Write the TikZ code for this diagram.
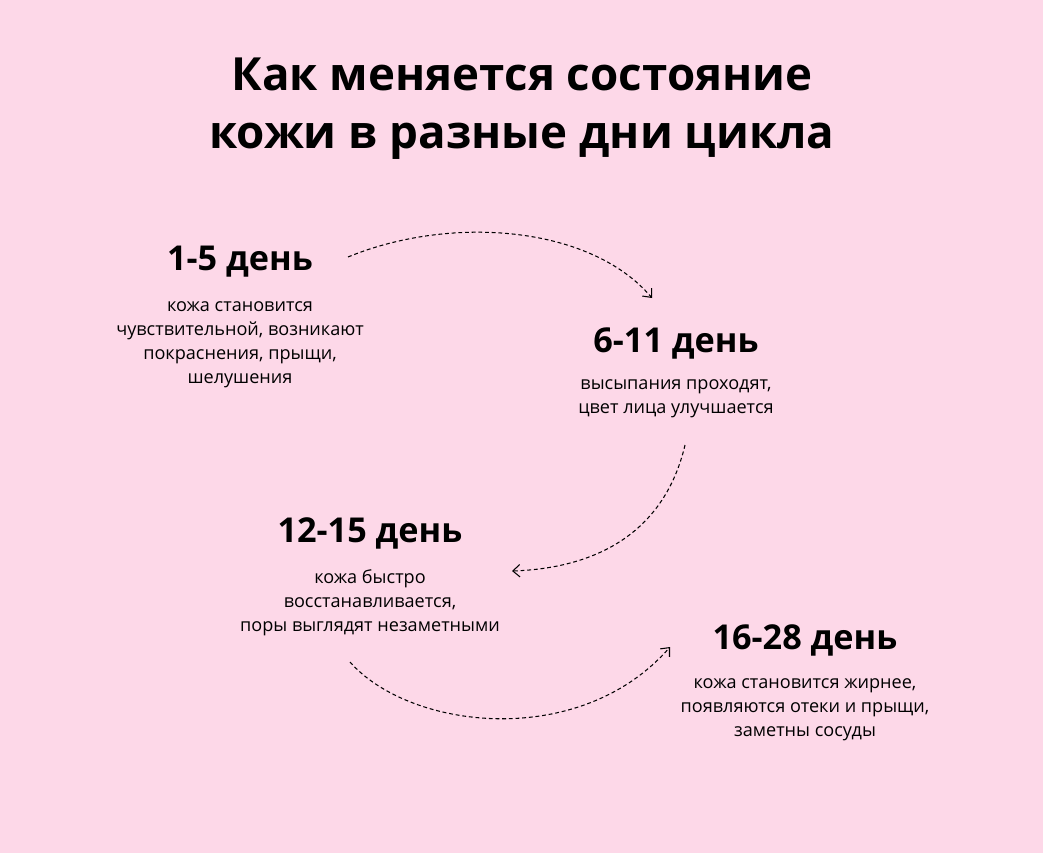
\documentclass[tikz,border=0pt]{standalone}
\usepackage{fontspec}
\setmainfont{Open Sans}
\usetikzlibrary{arrows.meta}
\definecolor{bgpink}{HTML}{FDD8E8}
\tikzset{
  daytitle/.style={font=\fontsize{19.5}{22}\selectfont\bfseries, anchor=center},
  daytext/.style={font=\fontsize{10.3}{13.6}\selectfont, align=center, anchor=center},
  flow/.style={dashed, dash pattern=on 2.2pt off 1.6pt, line width=0.6pt, -{Straight Barb[length=4pt,width=7pt]}}
}
\begin{document}
\begin{tikzpicture}[x=0.02cm,y=-0.02cm]
  % Fon
  \fill[bgpink] (0,0) rectangle (1043,853);
  \useasboundingbox (0,0) rectangle (1043,853);

  % Zagolovok
  \node[font=\fontsize{26}{33}\selectfont\bfseries, align=center] (title) at (522,109)
    {Как меняется состояние\\кожи в разные дни цикла};

  % Etapy
  \node[daytitle] (h1) at (240,262) {1-5 день};
  \node[daytext] (t1) at (240,345) {кожа становится\\чувствительной, возникают\\покраснения, прыщи,\\шелушения};
  \node[daytitle] (h2) at (676,343) {6-11 день};
  \node[daytext] (t2) at (676,399) {высыпания проходят,\\цвет лица улучшается};
  \node[daytitle] (h3) at (370,533) {12-15 день};
  \node[daytext] (t3) at (370,603) {кожа быстро\\восстанавливается,\\поры выглядят незаметными};
  \node[daytitle] (h4) at (805,640) {16-28 день};
  \node[daytext] (t4) at (805,710) {кожа становится жирнее,\\появляются отеки и прыщи,\\заметны сосуды};

  % Strelki
  \coordinate (s1) at (348,257);
  \coordinate (e1) at (652,298);
  \coordinate (s2) at (685,445);
  \coordinate (e2) at (512,571);
  \coordinate (s3) at (350,662);
  \coordinate (e3) at (670,647);
  \draw[flow] (s1) .. controls (450,215) and (590,225) .. (e1);
  \draw[flow] (s2) .. controls (665,530) and (600,568) .. (e2);
  \draw[flow] (s3) .. controls (410,730) and (580,750) .. (e3);
\end{tikzpicture}
\end{document}
